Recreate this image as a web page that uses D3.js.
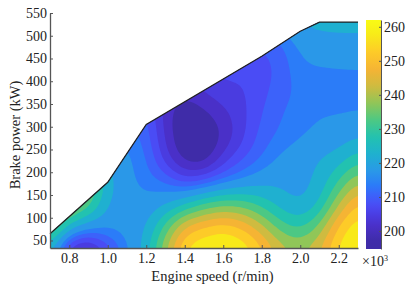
<!DOCTYPE html>
<html lang="en">
<head>
<meta charset="UTF-8">
<title>Brake specific map</title>
<style>
    html, body { margin: 0; padding: 0; background: #fff; }
    svg { display: block; }
    text { font-family: "Liberation Serif", serif; fill: #222; }
    .axis path, .axis line { stroke: #555; }
</style>
</head>
<body>
<svg width="414" height="288"></svg>
<script src="https://d3js.org/d3.v7.min.js"></script>
<script>
// Values, one row per brake power level
const speeds = [0.7, 0.8, 0.9, 1.0, 1.1, 1.2, 1.3, 1.4, 1.5, 1.6, 1.7, 1.8, 1.9, 2.0, 2.1, 2.2, 2.3];
const powers = [30, 80, 130, 180, 230, 280, 330, 380, 430, 480, 530];
const row30  = [222, 199, 198, 206, 214, 222, 240, 257, 261, 262, 260, 252, 243, 240, 245, 257, 262];
const row80  = [240, 222, 216, 216, 217, 219, 232, 247, 251, 254, 250, 242, 232, 228, 236, 252, 259];
const row130 = [246, 242, 234, 219, 217, 216.5, 219, 224, 231, 234, 233, 228, 222, 219, 224, 240, 252];
const row180 = [240, 240, 238, 222, 216, 213.5, 211.5, 206.5, 208, 212, 215, 218, 219, 218, 221, 230, 240];
const row230 = [238, 230, 222, 218, 216, 212.5, 204, 198, 197, 204, 208.5, 212, 216, 218, 220, 222, 228];
const row280 = [230, 225, 218, 215, 214, 211, 202, 196, 196, 200, 205, 210.5, 212.5, 214.5, 216, 217, 219];
const row330 = [225, 220, 215, 212, 211, 210, 201, 197, 199, 202, 205, 209, 212, 213.5, 214.8, 214.8, 215];
const row380 = [220, 216, 213, 210, 208, 206, 203, 201, 203.5, 205.5, 205.5, 208, 210.5, 213, 213, 213, 213.5];
const row430 = [216, 213, 211, 209, 207, 206, 205, 205, 206, 207, 206.8, 207.5, 209.8, 214.5, 214.8, 215, 215];
const row480 = [214, 212, 210, 209, 208, 207, 207, 207, 208, 208, 209, 209, 211, 216, 217.5, 218, 218];
const row530 = [214, 212, 211, 210, 209, 209, 209, 209, 210, 211, 212, 214, 217, 221, 222, 222, 222];
const rows = [row30, row80, row130, row180, row230, row280, row330, row380, row430, row480, row530];

// Outer limit line of the map
const limitSpeed = [0.7, 1.0, 1.2, 1.8, 2.0, 2.1, 2.3];
const limitPower = [65, 178, 305, 455, 510, 530, 530];

const levels = [190, 200, 203, 206, 209, 212, 215, 220, 225, 230, 235, 240, 245, 250, 255, 260, 265];
const colorStops = ["#3f2ca8", "#4a30c8", "#4a3ce0", "#4a4cf5", "#3c62fa", "#2b7cf8", "#2a98e8", "#1fb0d0", "#22c2b0", "#4cc884", "#90c658", "#cfbb40", "#f5b434", "#fdcb28", "#f8ec18", "#f9fb15"];
const colorValues = [197, 201.5, 204.5, 207.5, 210.5, 213.5, 217.5, 222.5, 227.5, 232.5, 237.5, 242.5, 247.5, 252.5, 258, 262];

const xTicks = [0.8, 1.0, 1.2, 1.4, 1.6, 1.8, 2.0, 2.2];
const yTicks = [50, 100, 150, 200, 250, 300, 350, 400, 450, 500, 550];
const barTicks = [200, 210, 220, 230, 240, 250, 260];

const svg = d3.select("svg");
const x = d3.scaleLinear().domain([0.7, 2.3]).range([50, 358]);
const y = d3.scaleLinear().domain([33.5, 550]).range([248, 13]);
const color = d3.scaleLinear().domain(colorValues).range(colorStops).clamp(true);

// Refine the grid so the contour bands come out smooth
const k = 6;
const w = (speeds.length - 1) * k + 1, h = (rows.length - 1) * k + 1;
const fine = new Float64Array(w * h);
for (let j = 0; j < h; j++) {
    for (let i = 0; i < w; i++) {
        const i0 = Math.min(Math.floor(i / k), speeds.length - 2), j0 = Math.min(Math.floor(j / k), rows.length - 2);
        const u = i / k - i0, v = j / k - j0;
        fine[j * w + i] = (1 - v) * ((1 - u) * rows[j0][i0] + u * rows[j0][i0 + 1]) + v * ((1 - u) * rows[j0 + 1][i0] + u * rows[j0 + 1][i0 + 1]);
    }
}
d3.blur2({data: fine, width: w}, 2);

const sx = d3.scaleLinear().domain([0.5, w - 0.5]).range([speeds[0], speeds[speeds.length - 1]]);
const sy = d3.scaleLinear().domain([0.5, h - 0.5]).range([powers[0], powers[powers.length - 1]]);
const path = d3.geoPath(d3.geoTransform({
    point(px, py) { this.stream.point(x(sx(px)), y(sy(py))); }
}));

const limit = limitSpeed.map((s, i) => [x(s), y(limitPower[i])]);
const clipShape = limit.concat([[x(2.3), y(33.5)], [x(0.7), y(33.5)]]);
svg.append("clipPath").attr("id", "map-clip")
    .append("polygon").attr("points", clipShape.join(" "));

const contours = d3.contours().size([w, h]).thresholds(levels)(Array.from(fine));
svg.append("g").attr("clip-path", "url(#map-clip)")
    .selectAll("path").data(contours).enter().append("path")
    .attr("d", path)
    .attr("fill", (d, i) => color((d.value + levels[Math.min(i + 1, levels.length - 1)]) / 2));

svg.append("path")
    .attr("d", d3.line()(limit))
    .attr("fill", "none")
    .attr("stroke", "#222")
    .attr("stroke-width", 1.3);

// Axes, ticks point inward
const xAxis = svg.append("g").attr("class", "axis").attr("transform", "translate(0,248)")
    .call(d3.axisBottom(x).tickValues(xTicks).tickFormat(d3.format(".1f")).tickSizeInner(-3).tickSizeOuter(0).tickPadding(5));
const yAxis = svg.append("g").attr("class", "axis").attr("transform", "translate(50,0)")
    .call(d3.axisLeft(y).tickValues(yTicks).tickSizeInner(-3).tickSizeOuter(0).tickPadding(3));
xAxis.selectAll("text").style("font-size", "14px").style("font-family", "Liberation Serif").attr("fill", "#222");
yAxis.selectAll("text").style("font-size", "14px").style("font-family", "Liberation Serif").attr("fill", "#222");
xAxis.select(".domain").attr("stroke-width", 1.3);
yAxis.select(".domain").attr("stroke-width", 1.3);

svg.append("text").attr("x", 212.5).attr("y", 280.5).attr("text-anchor", "middle").attr("font-size", 14.5).text("Engine speed (r/min)");
svg.append("text").attr("transform", "translate(20,135) rotate(-90)").attr("text-anchor", "middle").attr("font-size", 14.5).text("Brake power (kW)");

// Colour bar
const barY = d3.scaleLinear().domain([194.7, 262]).range([249, 20]);
const defs = svg.append("defs");
const grad = defs.append("linearGradient").attr("id", "bar-grad").attr("x1", 0).attr("y1", 1).attr("x2", 0).attr("y2", 0);
grad.selectAll("stop").data(d3.range(0, 1.001, 0.02)).enter().append("stop")
    .attr("offset", d => d)
    .attr("stop-color", d => color(194.7 + d * (262 - 194.7)));
svg.append("rect").attr("x", 366).attr("y", barY(262)).attr("width", 15).attr("height", barY(194.7) - barY(262)).attr("fill", "url(#bar-grad)");
const barAxis = svg.append("g").attr("class", "axis").attr("transform", "translate(381,0)")
    .call(d3.axisRight(barY).tickValues(barTicks).tickSizeInner(-2).tickSizeOuter(0).tickPadding(3));
barAxis.select(".domain").attr("stroke", "none");
barAxis.selectAll("text").style("font-size", "14px").style("font-family", "Liberation Serif").attr("fill", "#222");

const exp = svg.append("text").attr("x", 362).attr("y", 266).attr("font-size", 14).attr("fill", "#444");
exp.append("tspan").text("×10");
exp.append("tspan").attr("font-size", 8).attr("dy", -5).text("3");
</script>
</body>
</html>
